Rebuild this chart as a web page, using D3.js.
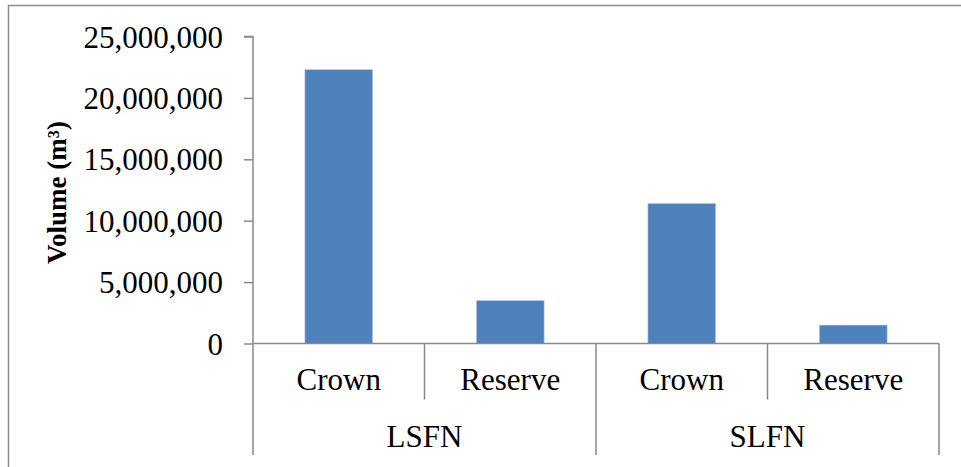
<!DOCTYPE html>
<html><head><meta charset="utf-8">
<script src="https://cdn.jsdelivr.net/npm/d3@7"></script>
<style>
body{margin:0;background:#fff}
svg{display:block}
svg text{font-family:"Liberation Serif","Times New Roman",serif !important;fill:#000}
</style>
</head><body>
<svg id="c" width="961" height="467"></svg>
<script>
const groups = ["LSFN", "SLFN"];
const categories = ["Crown", "Reserve", "Crown", "Reserve"];
const categoryGroup = ["LSFN", "LSFN", "SLFN", "SLFN"];
const values = [22300000, 3500000, 11400000, 1500000];
const yTicks = [0, 5000000, 10000000, 15000000, 20000000, 25000000];
const yTitle = "Volume (m³)";

const svg = d3.select("#c");
const axisColor = "#898989";
const L = 253, R = 939, T = 36.5, B = 343.5;

// outer frame
svg.append("rect").attr("x", 8.5).attr("y", 5.5).attr("width", 1000).attr("height", 1000)
  .attr("fill", "none").attr("stroke", "#8c8c8c").attr("stroke-width", 1.5);

const y = d3.scaleLinear().domain([0, 25000000]).range([B, T]);
const x = d3.scaleBand().domain(d3.range(categories.length)).range([L, R]).padding(0);
const barW = x.bandwidth() * 0.395;

// bars
svg.append("g").selectAll("rect").data(values).join("rect")
  .attr("x", (d, i) => x(i) + (x.bandwidth() - barW) / 2)
  .attr("width", barW)
  .attr("y", d => y(d))
  .attr("height", d => B - y(d))
  .attr("fill", "#4F81BD")
  .attr("stroke", "#b9cde5").attr("stroke-width", 0.6);

// y axis
const yAxis = d3.axisLeft(y).tickValues(yTicks).tickSize(9).tickPadding(21)
  .tickFormat(d3.format(","));
const gy = svg.append("g").attr("transform", `translate(${L},0)`).call(yAxis);
gy.attr("font-family", null).attr("font-size", null);
gy.select(".domain").attr("stroke", axisColor).attr("stroke-width", 1.5)
  .attr("d", `M-9,${T}H0V${B}`);
gy.selectAll(".tick line").attr("stroke", axisColor).attr("stroke-width", 1.5);
gy.selectAll(".tick text").style("font-size", "31px").attr("dy", "0.34em");

// x axis baseline
svg.append("line").attr("x1", L).attr("x2", R).attr("y1", B).attr("y2", B)
  .attr("stroke", axisColor).attr("stroke-width", 1.5);

// category dividers
const boundaries = d3.range(categories.length + 1);
svg.append("g").selectAll("line").data(boundaries).join("line")
  .attr("x1", i => i < categories.length ? x(i) : R)
  .attr("x2", i => i < categories.length ? x(i) : R)
  .attr("y1", B)
  .attr("y2", i => (i === 0 || i === categories.length || categoryGroup[i] !== categoryGroup[i - 1]) ? 455 : 399.5)
  .attr("stroke", axisColor).attr("stroke-width", 1.5);

// category labels
svg.append("g").selectAll("text").data(categories).join("text")
  .attr("x", (d, i) => x(i) + x.bandwidth() / 2)
  .attr("y", 390)
  .attr("text-anchor", "middle")
  .style("font-size", "31px")
  .text(d => d);

// group labels
svg.append("g").selectAll("text").data(groups).join("text")
  .attr("x", g => {
    const idx = categoryGroup.map((c, i) => c === g ? i : -1).filter(i => i >= 0);
    return (x(idx[0]) + x(idx[idx.length - 1]) + x.bandwidth()) / 2;
  })
  .attr("y", 446.5)
  .attr("text-anchor", "middle")
  .style("font-size", "31px")
  .text(d => d);

// y title
svg.append("text")
  .attr("transform", `translate(65.5,${(118 + 267) / 2}) rotate(-90)`)
  .attr("text-anchor", "middle")
  .style("font-size", "27px").style("font-weight", "bold")
  .text(yTitle);
</script>
</body></html>
